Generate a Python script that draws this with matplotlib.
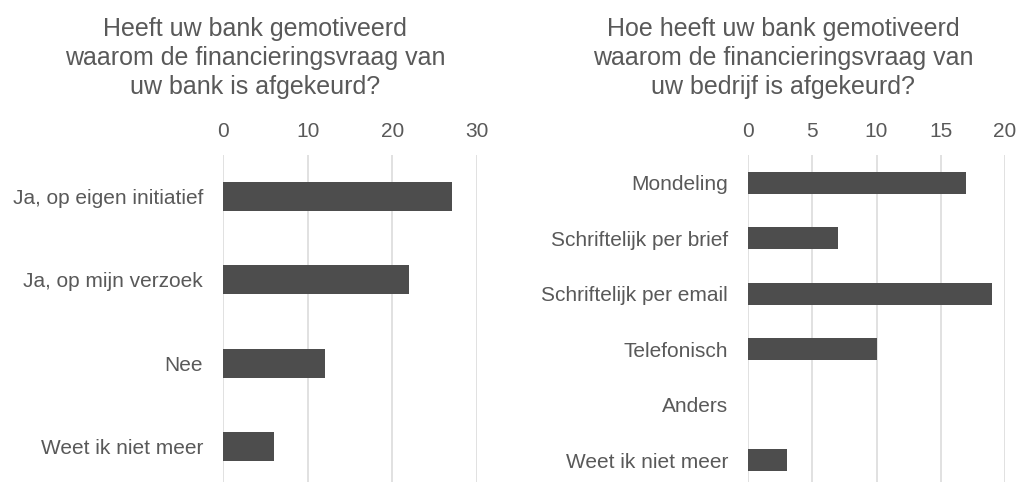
import matplotlib.pyplot as plt

plt.rcParams['font.family'] = ['Liberation Sans', 'DejaVu Sans']

# vraag 1
titel_links = 'Heeft uw bank gemotiveerd\nwaarom de financieringsvraag van\nuw bank is afgekeurd?'
antwoorden_links = ['Ja, op eigen initiatief', 'Ja, op mijn verzoek', 'Nee', 'Weet ik niet meer']
aantal_links = [27, 22, 12, 6]
ticks_links = [0, 10, 20, 30]

# vraag 2
titel_rechts = 'Hoe heeft uw bank gemotiveerd\nwaarom de financieringsvraag van\nuw bedrijf is afgekeurd?'
antwoorden_rechts = ['Mondeling', 'Schriftelijk per brief', 'Schriftelijk per email',
                     'Telefonisch', 'Anders', 'Weet ik niet meer']
aantal_rechts = [17, 7, 19, 10, 0, 3]
ticks_rechts = [0, 5, 10, 15, 20]

tekst_kleur = '#595959'
balk_kleur = '#4d4d4d'
grid_kleur = '#d9d9d9'

W, H = 1017, 482
fig = plt.figure(figsize=(W / 100, H / 100), dpi=100)


def teken(ax, labels, waarden, ticks, balkhoogte):
    pos = list(range(len(labels)))
    ax.barh(pos, waarden, height=balkhoogte, color=balk_kleur, zorder=3)
    ax.set_yticks(pos)
    ax.set_yticklabels(labels)
    ax.set_ylim(len(labels) - 0.5, -0.5)
    ax.set_xlim(ticks[0], ticks[-1])
    ax.set_xticks(ticks)
    ax.xaxis.tick_top()
    ax.tick_params(axis='x', length=0, pad=9.8, labelsize=15, labelcolor=tekst_kleur)
    ax.tick_params(axis='y', length=0, pad=14.4, labelsize=15, labelcolor=tekst_kleur)
    ax.grid(axis='x', color=grid_kleur, linewidth=1.1, zorder=0)
    for s in ax.spines.values():
        s.set_visible(False)


ax1 = fig.add_axes([223 / W, -6 / H, 254 / W, 333 / H])
teken(ax1, antwoorden_links, aantal_links, ticks_links, 0.35)

ax2 = fig.add_axes([748 / W, -6 / H, 257 / W, 333 / H])
teken(ax2, antwoorden_rechts, aantal_rechts, ticks_rechts, 0.39)

fig.text(255 / W, 1 - 17 / H, titel_links, ha='center', va='top', fontsize=18,
         color=tekst_kleur, linespacing=1.26)
fig.text(783 / W, 1 - 17 / H, titel_rechts, ha='center', va='top', fontsize=18,
         color=tekst_kleur, linespacing=1.26)

fig.savefig('out.png', dpi=100)
